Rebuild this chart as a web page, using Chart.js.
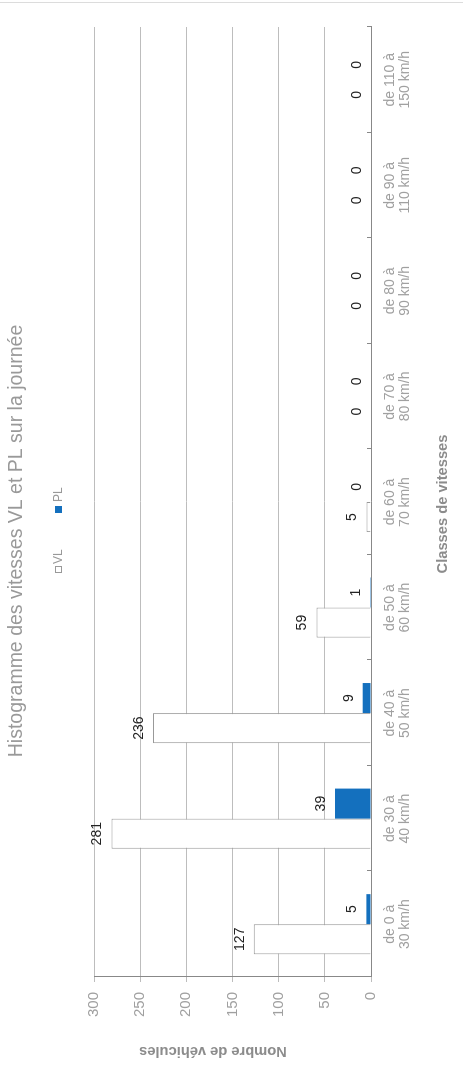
<!DOCTYPE html>
<html>
<head>
<meta charset="utf-8">
<script src="https://cdn.jsdelivr.net/npm/chart.js@4"></script>
<style>
  html, body { margin: 0; padding: 0; overflow: hidden; background: #fff; width: 463px; height: 1069px; }
  /* chart is drawn landscape, then turned a quarter to the left */
  #wrap { position: absolute; left: 0; top: 0; width: 1069px; height: 463px;
          transform-origin: 0 0; transform: translateY(1069px) rotate(-90deg); }
</style>
</head>
<body>
<div id="wrap"><canvas id="chart" width="1069" height="463"></canvas></div>
<script>
// Data
const categories = [
  ['de 0 à', '30 km/h'], ['de 30 à', '40 km/h'], ['de 40 à', '50 km/h'],
  ['de 50 à', '60 km/h'], ['de 60 à', '70 km/h'], ['de 70 à', '80 km/h'],
  ['de 80 à', '90 km/h'], ['de 90 à', '110 km/h'], ['de 110 à', '150 km/h']
];
const vlValues = [127, 281, 236, 59, 5, 0, 0, 0, 0];
const plValues = [5, 39, 9, 1, 0, 0, 0, 0, 0];
const valueTicks = [0, 50, 100, 150, 200, 250, 300];

const FONT = "'Liberation Sans', Arial, sans-serif";
const PL_BLUE = '#1470be';

// titles, legend, value labels, inner tick marks
const decor = {
  id: 'decor',
  afterDraw(chart) {
    const ctx = chart.ctx;
    const area = chart.chartArea;
    ctx.save();

    // thin frame line
    ctx.strokeStyle = '#dcdcdc';
    ctx.lineWidth = 1;
    ctx.beginPath();
    ctx.moveTo(1066.5, 0); ctx.lineTo(1066.5, 463);
    ctx.stroke();

    // category ticks pointing into the plot
    const n = categories.length;
    ctx.strokeStyle = '#888';
    for (let i = 0; i <= n; i++) {
      const x = Math.round(area.left + i * (area.right - area.left) / n) + 0.5;
      ctx.beginPath();
      ctx.moveTo(x, area.bottom - 4); ctx.lineTo(x, area.bottom);
      ctx.stroke();
    }

    // title
    ctx.fillStyle = '#999';
    ctx.font = '19.5px ' + FONT;
    ctx.textAlign = 'center';
    ctx.textBaseline = 'middle';
    ctx.fillText('Histogramme des vitesses VL et PL sur la journée', 528, 17);

    // legend
    ctx.font = '12px ' + FONT;
    ctx.textAlign = 'left';
    ctx.fillStyle = '#fff';
    ctx.fillRect(496.5, 55.5, 6, 6);
    ctx.strokeStyle = '#999';
    ctx.strokeRect(496.5, 55.5, 6, 6);
    ctx.fillStyle = '#999';
    ctx.fillText('VL', 505, 59);
    ctx.fillStyle = PL_BLUE;
    ctx.fillRect(556, 55, 7, 7);
    ctx.fillStyle = '#999';
    ctx.fillText('PL', 567, 59);

    // axis titles
    ctx.fillStyle = '#8c8c8c';
    ctx.font = 'bold 14.7px ' + FONT;
    ctx.textAlign = 'center';
    ctx.fillText('Classes de vitesses', 565, 443);
    ctx.translate(18, 213);
    ctx.rotate(-Math.PI / 2);
    ctx.fillText('Nombre de véhicules', 0, 0);
    ctx.setTransform(1, 0, 0, 1, 0, 0);

    // value labels above the bars
    ctx.fillStyle = '#222';
    ctx.font = '14px ' + FONT;
    ctx.textAlign = 'center';
    ctx.textBaseline = 'middle';
    chart.data.datasets.forEach((ds, i) => {
      chart.getDatasetMeta(i).data.forEach((bar, j) => {
        ctx.fillText(String(ds.data[j]), bar.x, bar.y - 14);
      });
    });
    ctx.restore();
  }
};

new Chart(document.getElementById('chart'), {
  type: 'bar',
  data: {
    labels: categories,
    datasets: [
      { label: 'VL', data: vlValues, backgroundColor: '#fff', borderColor: '#999', borderWidth: 1 },
      { label: 'PL', data: plValues, backgroundColor: PL_BLUE, borderWidth: 0 }
    ]
  },
  options: {
    responsive: false,
    animation: false,
    devicePixelRatio: 1,
    categoryPercentage: 0.57,
    barPercentage: 1,
    layout: { padding: { top: 94, right: 27, left: 0, bottom: 0 } },
    plugins: { legend: { display: false }, title: { display: false }, tooltip: { enabled: false } },
    scales: {
      x: {
        grid: { display: true, drawOnChartArea: false, drawTicks: false },
        border: { color: '#888' },
        ticks: { color: '#a0a0a0', font: { size: 14, family: FONT, lineHeight: 1.12 },
                 padding: 11, autoSkip: false, maxRotation: 0 },
        afterFit(scale) { scale.height = 92; }
      },
      y: {
        min: 0, max: 300,
        afterBuildTicks(scale) { scale.ticks = valueTicks.map(v => ({ value: v })); },
        grid: { color: '#bdbdbd', tickLength: 5 },
        border: { color: '#888' },
        ticks: { color: '#a0a0a0', font: { size: 15, family: FONT }, padding: 10 },
        afterFit(scale) { scale.width = 92; }
      }
    }
  },
  plugins: [decor]
});
</script>
</body>
</html>
